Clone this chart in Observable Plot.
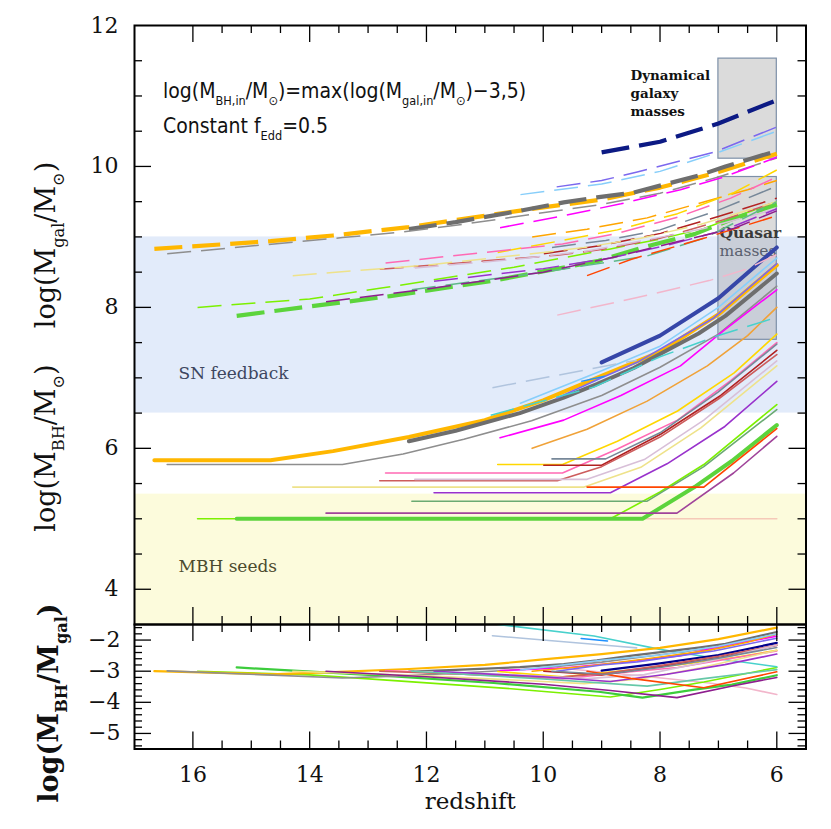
<!DOCTYPE html>
<html><head><meta charset="utf-8">
<script src="https://cdn.jsdelivr.net/npm/d3@7"></script>
<script src="https://cdn.jsdelivr.net/npm/@observablehq/plot@0.6"></script>
<style>
html,body{margin:0;padding:0;background:#fff;}
#wrap{position:relative;width:831px;height:829px;}
#wrap > svg{display:block;}
#overlay{position:absolute;left:0;top:0;pointer-events:none;overflow:visible;}
</style></head><body><div id="wrap"></div>
<script>
// ---------------- data ----------------
const seriesNames = ["palePink","lawnGreen","cyan","lightSteelBlue","dodgerBlue","limeThick","goldThick","grayThick","navy",
  "grayThin","magenta","orange","yellow","hotPink","firebrick","indianRed","thistle","khaki","darkOrchid","seaGreen",
  "orangeRed","darkMagenta","slateBlue","skyBlue","slateGray"];
const seriesColor = ["#f2b6cb","#7cf000","#48d1cc","#b0c4de","#1e90ff","#5cd43c","#ffb700","#6e6e6e","#0c1a84",
  "#8e8e8e","#ff00ff","#ffa500","#ffd700","#ff69b4","#b22222","#cd5c5c","#d8bfd8","#eee28a","#9932cc","#5fb88a",
  "#ff4500","#8e1e8e","#7b68ee","#87cefa","#778899"];
const bhColor = ["#f5c9b8",null,null,null,null,null,null,null,"#3646a8",
  null,null,"#f0a238",null,null,null,null,null,null,null,"#6aaa72",
  null,"#a0449a",null,null,null];
const seriesThick = [0,0,0,0,0,1,1,1,1, 0,0,0,0,0,0,0,0,0,0,0, 0,0,0,0,0];

// redshift of each snapshot of each series
const seriesZ = [
  [9.76,8.39,7.16,6.53,6.0],
  [15.92,14.0,12.8,10.5,8.85,8.0,7.25,6.0],
  [10.9,9.13,8.0,7.0,6.0],
  [10.87,9.8,8.73,8.4],
  [9.35,8.9],
  [15.25,12.62,10.85,9.05,8.3,7.41,6.77,6.0],
  [16.66,14.67,13.6,12.3,11.0,10.0,9.0,8.0,7.0,6.0],
  [12.3,11.5,10.4,9.65,9.08,8.45,7.34,6.88,6.0],
  [9.0,8.0,7.0,6.0],
  [16.44,13.44,12.4,11.36,10.2,9.0,8.0,7.0,6.0],
  [10.74,9.65,8.67,7.65,6.91,6.0],
  [10.19,9.25,8.22,7.19,6.5,6.0],
  [10.78,9.67,8.73,7.7,6.73,6.0],
  [12.7,11.0,9.67,8.73,7.7,6.79,6.0],
  [9.99,9.0,7.99,6.96,6.0],
  [12.8,11.0,9.76,9.0,8.0,7.0,6.0],
  [12.2,10.5,9.25,8.27,7.25,6.0],
  [14.29,12.0,10.0,9.3,8.33,7.3,6.0],
  [11.87,10.0,8.85,7.88,6.89,6.0],
  [12.25,10.0,8.22,7.25,6.0],
  [9.25,8.5,7.25,6.0],
  [13.72,12.0,10.0,8.85,7.71,6.74,6.0],
  [9.77,9.0,8.39,7.08,6.0],
  [10.39,9.0,8.0,7.0,6.0],
  [9.85,8.93,8.0,7.0,6.0]
];
// log(M_gal/Msun)  (dashed lines)
const seriesGal = [
  [7.89,8.14,8.38,8.54,8.75],
  [8.00,8.12,8.27,8.57,8.83,8.97,9.12,9.50],
  [6.47,6.87,7.30,7.60,7.86],
  [6.86,7.03,7.20,7.25],
  [6.95,7.03],
  [7.88,8.16,8.38,8.66,8.85,9.04,9.25,9.46],
  [8.83,8.94,9.02,9.14,9.30,9.42,9.53,9.70,9.92,10.18],
  [9.11,9.21,9.37,9.49,9.56,9.63,9.87,10.0,10.22],
  [10.20,10.35,10.61,10.94],
  [8.76,8.99,9.07,9.18,9.32,9.46,9.62,9.85,10.12],
  [9.13,9.30,9.47,9.67,9.85,10.13],
  [9.00,9.11,9.27,9.51,9.67,9.80],
  [8.78,8.95,9.10,9.33,9.63,9.95],
  [8.63,8.78,8.90,9.05,9.28,9.55,9.85],
  [8.76,8.88,9.05,9.30,9.55],
  [8.54,8.66,8.74,8.82,8.98,9.22,9.50],
  [8.56,8.68,8.80,8.95,9.12,9.40],
  [8.45,8.60,8.78,8.85,8.98,9.18,9.50],
  [8.37,8.55,8.70,8.88,9.10,9.40],
  [8.25,8.50,8.73,8.98,9.50],
  [8.45,8.68,8.98,9.30],
  [8.08,8.26,8.50,8.70,8.93,9.12,9.37],
  [9.71,9.80,9.92,10.20,10.56],
  [9.60,9.75,9.93,10.20,10.50],
  [8.85,8.95,9.10,9.38,9.72]
];
// log(M_BH/Msun)  (solid lines; null = not visible)
const seriesBH = [
  [5.0,5.0,5.0,5.0,5.0],
  [5.0,5.0,5.0,5.0,5.0,5.38,5.77,6.62],
  null, null, null,
  [5.0,5.0,5.0,5.0,5.0,5.45,5.82,6.33],
  [5.83,5.83,5.96,6.16,6.40,6.68,7.03,7.37,7.90,8.60],
  [6.10,6.25,6.50,6.72,6.91,7.14,7.63,7.88,8.48],
  [7.22,7.60,8.13,8.85],
  [5.77,5.77,5.92,6.13,6.39,6.75,7.15,7.62,8.30],
  [6.15,6.40,6.75,7.17,7.67,8.25],
  [6.00,6.27,6.67,7.17,7.60,8.00],
  [5.77,5.77,6.10,6.53,7.07,7.62],
  [5.65,5.65,5.65,5.99,6.40,6.96,7.50],
  [5.76,5.76,6.20,6.75,7.39],
  [5.54,5.54,5.54,5.74,6.16,6.70,7.33],
  [5.56,5.56,5.56,5.84,6.40,7.24],
  [5.45,5.45,5.45,5.45,5.73,6.29,7.17],
  [5.37,5.37,5.37,5.78,6.31,6.95],
  [5.25,5.25,5.25,5.74,6.55],
  [5.45,5.45,5.45,6.28],
  [5.08,5.08,5.08,5.08,5.08,5.65,6.17],
  [6.71,7.00,7.22,7.85,8.62],
  [6.64,7.10,7.45,8.00,8.70],
  [5.85,5.85,6.22,6.80,7.48]
];
// log(M_BH/M_gal)  (lower panel)
const seriesRatio = [
  [-2.89,-3.14,-3.38,-3.54,-3.75],
  [-3.00,-3.12,-3.27,-3.57,-3.83,-3.59,-3.35,-2.88],
  [-1.47,-1.87,-2.30,-2.60,-2.86],
  [-1.86,-2.03,-2.20,-2.25],
  [-1.95,-2.03],
  [-2.88,-3.16,-3.38,-3.66,-3.85,-3.59,-3.43,-3.13],
  [-3.00,-3.10,-3.03,-2.93,-2.80,-2.62,-2.45,-2.25,-1.97,-1.60],
  [-3.01,-2.96,-2.87,-2.77,-2.65,-2.49,-2.24,-2.12,-1.74],
  [-2.98,-2.75,-2.48,-2.09],
  [-2.99,-3.22,-3.15,-3.05,-2.93,-2.71,-2.47,-2.23,-1.82],
  [-2.98,-2.90,-2.72,-2.50,-2.18,-1.88],
  [-3.00,-2.84,-2.60,-2.34,-2.07,-1.80],
  [-3.01,-3.18,-3.00,-2.80,-2.56,-2.33],
  [-2.98,-3.13,-3.25,-3.06,-2.88,-2.59,-2.35],
  [-3.00,-3.12,-2.85,-2.55,-2.16],
  [-3.00,-3.12,-3.20,-3.08,-2.82,-2.52,-2.17],
  [-3.00,-3.12,-3.24,-3.11,-2.72,-2.16],
  [-3.00,-3.15,-3.33,-3.40,-3.25,-2.89,-2.33],
  [-3.00,-3.18,-3.33,-3.10,-2.79,-2.45],
  [-3.00,-3.25,-3.48,-3.24,-2.95],
  [-3.00,-3.23,-3.53,-3.02],
  [-3.00,-3.18,-3.42,-3.62,-3.85,-3.47,-3.20],
  [-3.00,-2.80,-2.70,-2.35,-1.94],
  [-2.96,-2.65,-2.48,-2.20,-1.80],
  [-3.00,-3.10,-2.88,-2.58,-2.24]
];
const ratioColor = [null,null,null,null,null,"#3ccc3c",null,null,"#00008b",
  null,null,null,null,null,null,null,null,null,null,"#66c8a8",
  null,null,null,null,null];

// shaded regions
const seedBand = [3.5, 5.35];          // MBH seeds (log M_BH)
const snBand = [6.5, 9.0];             // SN feedback
const dynBox = [7, 6, 10.11, 11.53];   // dynamical galaxy masses  (z1,z2,m1,m2)
const qsoBox = [7, 6, 7.54, 9.85];     // quasar masses

// axes
const xTicks = [16, 14, 12, 10, 8, 6];
const yTopTicks = [4, 6, 8, 10, 12];
const yBotTicks = [-5, -4, -3, -2];

// ---------------- drawing ----------------
const W = 831, ML = 134, MR = 25.5;
const topH = 624, topMT = 25;
const botH = 205, botMB = 80.5;
const frameW = W - ML - MR;
const topFH = topH - topMT, botFH = botH - botMB;
const FONT = "DejaVu Serif, Liberation Serif, serif";

function rows(i, vals) { return seriesZ[i].map((z, j) => ({z, v: vals[j]})); }

function tickMarks(FH, xMin, xMaj, yMin, yMaj) {
  const o = {stroke: "#000", strokeWidth: 1.3};
  return [
    Plot.tickX(xMin, {x: d => d, insetBottom: FH - 8, ...o}),
    Plot.tickX(xMin, {x: d => d, insetTop: FH - 8, ...o}),
    Plot.tickX(xMaj, {x: d => d, insetBottom: FH - 17, ...o}),
    Plot.tickX(xMaj, {x: d => d, insetTop: FH - 17, ...o}),
    Plot.tickY(yMin, {y: d => d, insetRight: frameW - 8, ...o}),
    Plot.tickY(yMin, {y: d => d, insetLeft: frameW - 8, ...o}),
    Plot.tickY(yMaj, {y: d => d, insetRight: frameW - 17, ...o}),
    Plot.tickY(yMaj, {y: d => d, insetLeft: frameW - 17, ...o})
  ];
}
const xMinor = d3.range(13, 33).map(k => k / 2).filter(v => v % 2 !== 0);
const xMajor = xTicks;
const yTopMinor = d3.range(9, 24).map(k => k / 2).filter(v => v % 2 !== 0);
const yBotMinor = d3.range(-27, -7).filter(k => k % 5 !== 0).map(k => k / 5);

const drawOrder = d3.range(seriesNames.length);

function label(txt, dx, dy, o) {
  return Plot.text([txt], {frameAnchor: "top-left", dx, dy, textAnchor: "start", lineAnchor: "middle", ...o});
}

const topMarks = [
  Plot.rect([seedBand], {x1: () => 17, x2: () => 5.5, y1: d => d[0], y2: d => d[1], fill: "#fcfbdc"}),
  Plot.rect([snBand], {x1: () => 17, x2: () => 5.5, y1: d => d[0], y2: d => d[1], fill: "#e2ebfa"}),
  Plot.rect([dynBox, qsoBox], {x1: d => d[0], x2: d => d[1], y1: d => d[2], y2: d => d[3],
    fill: "#a0a0a0", fillOpacity: 0.38, stroke: "#7d90a8", strokeWidth: 1.2}),
  label("Dynamical", 496, 50, {fontSize: 13.5, fontWeight: "bold", fill: "#111"}),
  label("galaxy", 496, 68, {fontSize: 13.5, fontWeight: "bold", fill: "#111"}),
  label("masses", 496, 86, {fontSize: 13.5, fontWeight: "bold", fill: "#111"}),
  label("Quasar", 585, 208, {fontSize: 15.5, fontWeight: 600, fill: "#3a3a3a"}),
  label("masses", 585, 226, {fontSize: 15.5, fill: "#59606e"}),
  label("SN feedback", 44, 348, {fontSize: 17, fill: "#3d4660", ariaLabel: "spaced"}),
  label("MBH seeds", 44, 541, {fontSize: 17, fill: "#4b4a2e", ariaLabel: "spaced"})
];
for (const i of drawOrder) {
  if (!seriesBH[i]) continue;
  topMarks.push(Plot.line(rows(i, seriesBH[i]), {x: "z", y: "v", stroke: bhColor[i] || seriesColor[i],
    strokeWidth: seriesThick[i] ? 4 : 1.6, clip: true}));
}
for (const i of drawOrder) {
  topMarks.push(Plot.line(rows(i, seriesGal[i]), {x: "z", y: "v", stroke: seriesColor[i],
    strokeWidth: seriesThick[i] ? 4.2 : 1.5, strokeDasharray: seriesThick[i] ? "28,10" : "24,10",
    strokeLinecap: "butt", clip: true}));
}
topMarks.push(...tickMarks(topFH, xMinor, xMajor, yTopMinor, [4, 6, 8, 10]));
topMarks.push(Plot.frame({stroke: "#000", strokeWidth: 2}));
topMarks.push(Plot.text(yTopTicks, {y: d => d, text: d => String(d), frameAnchor: "left", dx: -16, textAnchor: "end", fontSize: 22, fill: "#111", ariaLabel: "ticklabels"}));

const topPlot = Plot.plot({
  width: W, height: topH, marginLeft: ML, marginRight: MR, marginTop: topMT, marginBottom: 0,
  x: {domain: [17, 5.5], axis: null},
  y: {domain: [3.5, 12], axis: null},
  style: {fontFamily: FONT, background: "transparent", overflow: "visible"},
  marks: topMarks
});

const botMarks = [];
for (const i of drawOrder) {
  botMarks.push(Plot.line(rows(i, seriesRatio[i]), {x: "z", y: "v", stroke: ratioColor[i] || seriesColor[i],
    strokeWidth: seriesThick[i] ? 2.2 : 1.6, clip: true}));
}
botMarks.push(...tickMarks(botFH, xMinor, xMajor, yBotMinor, yBotTicks));
botMarks.push(Plot.frame({stroke: "#000", strokeWidth: 2}));
botMarks.push(Plot.text(yBotTicks, {y: d => d, text: d => String(d).replace("-", "\u2212"), frameAnchor: "left", dx: -14, textAnchor: "end", fontSize: 22, fill: "#111", ariaLabel: "ticklabels"}));
botMarks.push(Plot.text(xTicks, {x: d => d, text: d => String(d), frameAnchor: "bottom", dy: 33, fontSize: 22, fill: "#111", ariaLabel: "ticklabels"}));
botMarks.push(Plot.text(["redshift"], {frameAnchor: "bottom", dy: 60, fontSize: 23, fill: "#111", ariaLabel: "xtitle"}));

const botPlot = Plot.plot({
  width: W, height: botH, marginLeft: ML, marginRight: MR, marginTop: 0, marginBottom: botMB,
  x: {domain: [17, 5.5], axis: null},
  y: {domain: [-5.5, -1.5], axis: null},
  style: {fontFamily: FONT, background: "transparent", overflow: "visible"},
  marks: botMarks
});

const wrap = document.getElementById("wrap");
wrap.appendChild(topPlot);
wrap.appendChild(botPlot);
d3.selectAll('g[aria-label="ticklabels"]').attr("letter-spacing", "1.5px");
d3.selectAll('g[aria-label="spaced"]').attr("letter-spacing", "1px");
d3.selectAll('g[aria-label="xtitle"]').attr("letter-spacing", "2.2px");

// overlay for texts with subscripts
const ov = d3.select(wrap).append("svg").attr("id", "overlay").attr("width", W).attr("height", 829);
function rich(x, y, parts, o) {
  const t = ov.append("text").attr("x", x).attr("y", y)
    .attr("font-family", o.family).attr("font-size", o.size).attr("fill", o.fill || "#111");
  if (o.weight) t.attr("font-weight", o.weight);
  if (o.anchor) t.attr("text-anchor", o.anchor);
  if (o.rotate) t.attr("transform", `rotate(${o.rotate},${x},${y})`);
  if (o.spacing) t.attr("letter-spacing", o.spacing);
  let shift = 0;
  for (const [s, kind] of parts) {
    const ts = t.append("tspan").text(s);
    const target = kind === "sub" ? o.size * 0.32 : 0;
    if (target - shift) ts.attr("dy", target - shift);
    shift = target;
    if (kind === "sub") ts.attr("font-size", o.size * 0.6);
  }
}
const SANS = "DejaVu Sans Condensed, DejaVu Sans, sans-serif";
rich(163, 98, [["log(M"], ["BH,in", "sub"], ["/M"], ["\u2299", "sub"], [")=max(log(M"], ["gal,in", "sub"], ["/M"], ["\u2299", "sub"], [")\u22123,5)"]],
  {family: SANS, size: 21});
rich(163, 133, [["Constant f"], ["Edd", "sub"], ["=0.5"]], {family: SANS, size: 21});
rich(55, 245, [["log(M"], ["gal", "sub"], ["/M"], ["\u2299", "sub"], [")"]], {family: FONT, size: 27, anchor: "middle", rotate: -90});
rich(55, 448, [["log(M"], ["BH", "sub"], ["/M"], ["\u2299", "sub"], [")"]], {family: FONT, size: 27, anchor: "middle", rotate: -90});
rich(58, 703, [["log(M"], ["BH", "sub"], ["/M"], ["gal", "sub"], [")"]], {family: FONT, size: 27, anchor: "middle", rotate: -90, weight: "bold"});
</script></body></html>
